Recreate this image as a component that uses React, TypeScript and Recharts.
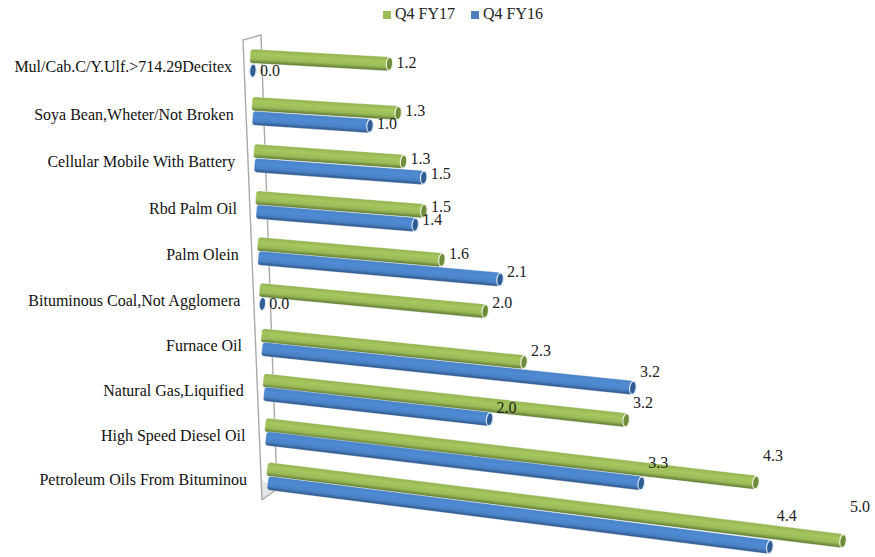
import { BarChart, Bar, XAxis, YAxis, Legend, LabelList, Customized } from "recharts"

const categories = [
  "Mul/Cab.C/Y.Ulf.>714.29Decitex",
  "Soya Bean,Wheter/Not Broken",
  "Cellular Mobile With Battery",
  "Rbd Palm Oil",
  "Palm Olein",
  "Bituminous Coal,Not Agglomera",
  "Furnace Oil",
  "Natural Gas,Liquified",
  "High Speed Diesel Oil",
  "Petroleum Oils From Bituminou",
]
const fy17 = [1.21, 1.27, 1.3, 1.46, 1.6, 1.96, 2.28, 3.15, 4.26, 5.0]
const fy16 = [0.02, 1.02, 1.47, 1.38, 2.1, 0.02, 3.22, 1.96, 3.26, 4.36]

const data = categories.map((name, i) => ({ name, fy17: fy17[i], fy16: fy16[i] }))

const FONT = "'Liberation Serif', 'Times New Roman', serif"

// the original is a 3D perspective chart: bars lean more the lower they sit,
// and the rows in the middle sag a few pixels
const sag = (cy: number) => 5 * Math.max(0, 1 - ((cy - 250) / 220) ** 2)
const startShift = (cy: number) => (cy - 54) * 0.041
const barSlope = (cy: number) => 0.056 + ((cy - 54) / 415) * 0.069
const labelSlope = (cy: number) => 0.048 + ((cy - 54) / 415) * 0.018

function cylinder(grad: string, cap: string, rim: string) {
  return (props: any) => {
    const { x, y, width, height } = props
    const cy = y + height / 2
    const sx = x + startShift(cy)
    const angle = (Math.atan(barSlope(cy)) * 180) / Math.PI
    const len = width / Math.cos((angle * Math.PI) / 180)
    return (
      <g transform={`translate(${sx} ${cy + sag(cy)}) rotate(${angle})`}>
        {width > 5 && (
          <rect
            x={0}
            y={-height / 2}
            width={len}
            height={height}
            rx={3}
            fill={`url(#${grad})`}
            stroke="#ffffff"
            strokeOpacity={0.55}
            strokeWidth={0.6}
          />
        )}
        <ellipse cx={len} cy={0} rx={3.2} ry={height / 2 - 0.5} fill={cap} stroke={rim} strokeWidth={1.2} />
      </g>
    )
  }
}

function endLabel(props: any) {
  const { x, y, width, height, value } = props
  const cy = y + height / 2
  const lx = x + startShift(cy) + width + 17
  const ly = cy + sag(cy) + labelSlope(cy) * width
  return (
    <text x={lx} y={ly} dy={5} textAnchor="middle" fontFamily={FONT} fontSize={16} fill="#222">
      {(Math.round(Number(value) * 10) / 10).toFixed(1)}
    </text>
  )
}

function CategoryTick({ x, y, payload }: any) {
  const end = x - 10 + ((y - 62) * 15) / 414
  return (
    <text x={end} y={y + sag(y)} dy={9} textAnchor="end" fontFamily={FONT} fontSize={16} fill="#111">
      {payload.value}
    </text>
  )
}

function BackWall() {
  return (
    <g fill="none" stroke="#a9a9a9" strokeWidth={1.4}>
      <polygon points="262,500 277,489 262,480" fill="#e4e4e4" stroke="none" />
      <polyline points="262,500 243,40 261,35 277,489 262,500" />
    </g>
  )
}

export default function App() {
  return (
    <div style={{ position: "absolute", left: 0, top: 0, width: 875, height: 557 }}>
      <BarChart
        width={875}
        height={557}
        data={data}
        layout="vertical"
        barSize={14}
        barGap={0}
        margin={{ top: 38, right: 49, bottom: 58, left: 0 }}
      >
        <defs>
          <linearGradient id="greenBar" x1="0" y1="0" x2="0" y2="1">
            <stop offset="0%" stopColor="#93b252" />
            <stop offset="35%" stopColor="#a6c75e" />
            <stop offset="70%" stopColor="#9abb58" />
            <stop offset="100%" stopColor="#5c7630" />
          </linearGradient>
          <linearGradient id="blueBar" x1="0" y1="0" x2="0" y2="1">
            <stop offset="0%" stopColor="#4a83c8" />
            <stop offset="40%" stopColor="#4f8ad4" />
            <stop offset="72%" stopColor="#4a82c6" />
            <stop offset="100%" stopColor="#2b5285" />
          </linearGradient>
        </defs>
        <Customized component={BackWall} />
        <XAxis type="number" domain={[0, 5]} hide />
        <YAxis
          type="category"
          dataKey="name"
          width={250}
          interval={0}
          axisLine={false}
          tickLine={false}
          tick={<CategoryTick />}
        />
        <Legend
          verticalAlign="top"
          height={1}
          iconType="square"
          iconSize={8}
          itemSorter={null}
          wrapperStyle={{ top: 5, left: 346, width: 250, fontFamily: FONT, fontSize: 16 }}
          formatter={(value) => <span style={{ color: "#222", marginRight: 6 }}>{value}</span>}
        />
        <Bar
          dataKey="fy17"
          name="Q4 FY17"
          fill="#9bbb59"
          isAnimationActive={false}
          shape={cylinder("greenBar", "#6f8c3c", "#eef4df")}
        >
          <LabelList dataKey="fy17" content={endLabel} />
        </Bar>
        <Bar
          dataKey="fy16"
          name="Q4 FY16"
          fill="#4f81bd"
          isAnimationActive={false}
          shape={cylinder("blueBar", "#2f5c92", "#dbe7f5")}
        >
          <LabelList dataKey="fy16" content={endLabel} />
        </Bar>
      </BarChart>
    </div>
  )
}
